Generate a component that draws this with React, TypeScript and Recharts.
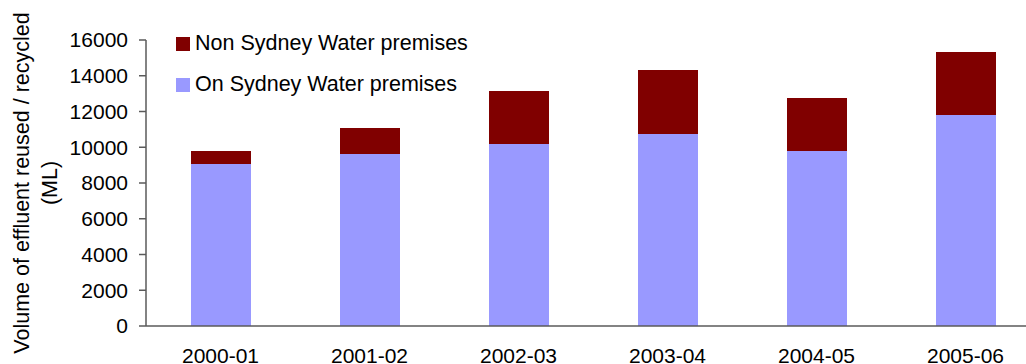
import { Bar, BarChart, Legend, XAxis, YAxis } from 'recharts';

const years = ['2000-01', '2001-02', '2002-03', '2003-04', '2004-05', '2005-06'];
const onPremises = [9060, 9620, 10180, 10740, 9790, 11800];
const nonPremises = [730, 1460, 2970, 3580, 2970, 3530];
const yTicks = [0, 2000, 4000, 6000, 8000, 10000, 12000, 14000, 16000];

const ON_COLOR = '#9999FF';
const NON_COLOR = '#800000';
const AXIS_COLOR = '#5a5a5a';
const FONT = '"Liberation Sans", Arial, sans-serif';
const TICK_SIZE = 21;
const TEXT_SIZE = 21.5;

const legendItems = [
  { label: 'Non Sydney Water premises', color: NON_COLOR },
  { label: 'On Sydney Water premises', color: ON_COLOR },
];

const data = years.map((year, i) => ({
  year,
  on: onPremises[i],
  non: nonPremises[i],
}));

const LegendBox = () => (
  <div style={{ fontFamily: FONT, fontSize: TEXT_SIZE, color: '#000' }}>
    {legendItems.map((item) => (
      <div
        key={item.label}
        style={{ display: 'flex', alignItems: 'center', height: 41 }}
      >
        <span
          style={{
            width: 14,
            height: 14,
            background: item.color,
            marginRight: 5,
            display: 'inline-block',
          }}
        />
        <span>{item.label}</span>
      </div>
    ))}
  </div>
);

const YLabel = () => (
  <g fontFamily={FONT} fontSize={TEXT_SIZE} fill="#000">
    <text
      x={0}
      y={0}
      transform="translate(29 183) rotate(-90)"
      textAnchor="middle"
    >
      Volume of effluent reused / recycled
    </text>
    <text
      x={0}
      y={0}
      transform="translate(57 183) rotate(-90)"
      textAnchor="middle"
    >
      (ML)
    </text>
  </g>
);

export default function App() {
  return (
    <div
      style={{
        position: 'fixed',
        left: 0,
        top: 0,
        width: 1026,
        height: 364,
        overflow: 'hidden',
        background: '#fff',
      }}
    >
      <BarChart
        width={1040}
        height={364}
        data={data}
        margin={{ top: 40, right: 0, bottom: 0, left: 86 }}
        barCategoryGap={0}
        style={{ fontFamily: FONT }}
      >
        <XAxis
          dataKey="year"
          height={38}
          tickLine={false}
          tickSize={0}
          tickMargin={22}
          stroke={AXIS_COLOR}
          strokeWidth={1.5}
          tick={{ fill: '#000', fontSize: TICK_SIZE }}
        />
        <YAxis
          width={60}
          domain={[0, 16000]}
          ticks={yTicks}
          tickSize={7}
          tickMargin={11}
          stroke={AXIS_COLOR}
          strokeWidth={1.5}
          tick={{ fill: '#000', fontSize: TICK_SIZE }}
          label={{ content: () => <YLabel /> }}
        />
        {/* centred horizontal layout keeps the legend out of the plot offset */}
        <Legend
          layout="horizontal"
          verticalAlign="middle"
          align="center"
          content={() => <LegendBox />}
          wrapperStyle={{ left: 176, top: 23, width: 340 }}
        />
        <Bar
          dataKey="on"
          stackId="a"
          fill={ON_COLOR}
          barSize={60}
          isAnimationActive={false}
        />
        <Bar
          dataKey="non"
          stackId="a"
          fill={NON_COLOR}
          barSize={60}
          isAnimationActive={false}
        />
      </BarChart>
    </div>
  );
}
